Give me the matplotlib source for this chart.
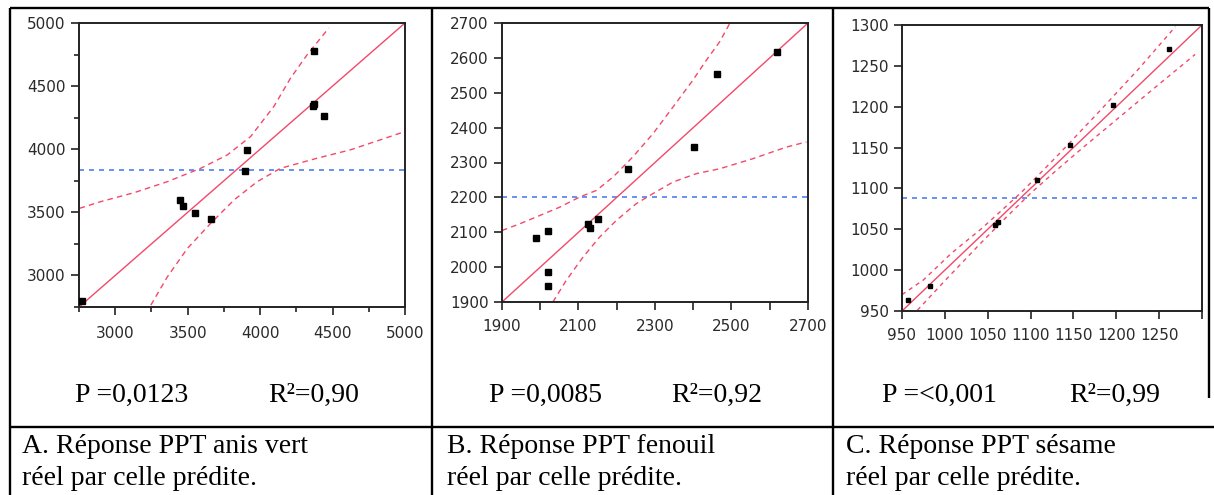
import matplotlib

matplotlib.use("Agg")

import matplotlib.pyplot as plt
from matplotlib.ticker import MultipleLocator, FixedLocator

# --- panel A: anis vert (actual vs predicted) ---
a_x = [2770, 3448, 3468, 3549, 3664, 3895, 3909, 4365, 4372, 4371, 4444]
a_y = [2796, 3598, 3553, 3492, 3447, 3830, 3995, 4345, 4362, 4780, 4267]
a_mean = 3835
a_fit = [2750, 5000]
a_up_x = [2754, 2901, 3131, 3360, 3590, 3774, 3935, 4095, 4210, 4325, 4474]
a_up_y = [3532, 3585, 3656, 3743, 3849, 3955, 4101, 4339, 4563, 4749, 4960]
a_lo_x = [3246, 3360, 3498, 3659, 3820, 3980, 4141, 4394, 4623, 5000]
a_lo_y = [2765, 2989, 3214, 3413, 3598, 3743, 3849, 3929, 3995, 4140]

# --- panel B: fenouil ---
b_x = [1989, 2021, 2021, 2021, 2125, 2129, 2151, 2230, 2403, 2462, 2619]
b_y = [2083, 2103, 1986, 1945, 2123, 2112, 2139, 2281, 2345, 2553, 2617]
b_mean = 2200
b_fit = [1900, 2700]
b_up_x = [1900, 1946, 1990, 2051, 2103, 2147, 2190, 2242, 2295, 2347, 2399, 2434, 2469, 2495]
b_up_y = [2105, 2124, 2144, 2172, 2201, 2220, 2258, 2316, 2383, 2459, 2536, 2593, 2646, 2698]
b_lo_x = [2033, 2068, 2112, 2155, 2199, 2251, 2295, 2347, 2408, 2469, 2556, 2643, 2696]
b_lo_y = [1900, 1962, 2029, 2086, 2134, 2182, 2211, 2244, 2268, 2282, 2311, 2344, 2359]

# --- panel C: sesame ---
c_x = [957, 983, 1058, 1062, 1108, 1146, 1196, 1262]
c_y = [964, 981, 1055, 1059, 1110, 1153, 1202, 1271]
c_mean = 1088
c_fit = [950, 1300]
c_up_x = [950, 975, 1008, 1043, 1064, 1090, 1107, 1134, 1180, 1225, 1269]
c_up_y = [970, 988, 1021, 1051, 1071, 1096, 1114, 1143, 1194, 1245, 1298]
c_lo_x = [968, 1000, 1040, 1070, 1100, 1130, 1160, 1200, 1240, 1292]
c_lo_y = [951, 987, 1031, 1063, 1094, 1122, 1149, 1184, 1219, 1264]

a_ticks = [3000, 3500, 4000, 4500, 5000]
b_xticks = [1900, 2100, 2300, 2500, 2700]
c_ticks = [950, 1000, 1050, 1100, 1150, 1200, 1250, 1300]

p_labels = ["P =0,0123", "P =0,0085", "P =<0,001"]
r2_labels = ["R²=0,90", "R²=0,92", "R²=0,99"]
captions = [
    "A. Réponse PPT anis vert\nréel par celle prédite.",
    "B. Réponse PPT fenouil\nréel par celle prédite.",
    "C. Réponse PPT sésame\nréel par celle prédite.",
]

W, H = 1214, 495
RED = "#f2496a"
BLUE = "#4d7ff0"
TICK_COLOR = "#2a2a2a"

fig = plt.figure(figsize=(W / 100, H / 100), dpi=100)

# overlay in pixel coordinates for the table frame and text
over = fig.add_axes([0, 0, 1, 1])
over.set_xlim(0, W)
over.set_ylim(H, 0)
over.axis("off")

frame = [
    ((10, 1209), (8, 8)),
    ((10, 10), (8, 495)),
    ((432, 432), (8, 495)),
    ((833, 833), (8, 495)),
    ((1209, 1209), (8, 398)),
    ((10, 1214), (427, 427)),
]
for xs, ys in frame:
    over.plot(xs, ys, color="black", lw=1.7, solid_capstyle="butt")

serif = "Liberation Serif"
p_x = [75, 489, 882]
r2_x = [268, 671, 1069]
cap_x = [22, 447, 846]
for i in range(3):
    over.text(p_x[i], 402, p_labels[i], fontsize=20, family=serif, va="baseline")
    over.text(r2_x[i], 402, r2_labels[i], fontsize=20, family=serif, va="baseline")
    lines = captions[i].split("\n")
    over.text(cap_x[i], 453, lines[0], fontsize=20, family=serif, va="baseline")
    over.text(cap_x[i], 485, lines[1], fontsize=20, family=serif, va="baseline")


def px_axes(left, right, top, bottom):
    return fig.add_axes([left / W, (H - bottom) / H, (right - left) / W, (bottom - top) / H])


def draw_panel(ax, x, y, mean, fit, up_x, up_y, lo_x, lo_y, msize, dash):
    lo, hi = fit
    ax.axhline(mean, color=BLUE, lw=1.2, ls=(0, (3, 3)), zorder=1)
    ax.plot(fit, fit, color=RED, lw=1.0, zorder=2)
    ax.plot(up_x, up_y, color=RED, lw=1.0, ls=(0, dash), zorder=2)
    ax.plot(lo_x, lo_y, color=RED, lw=1.0, ls=(0, dash), zorder=2)
    ax.plot(x, y, ls="none", marker="s", color="black", markersize=msize, zorder=3)
    ax.set_xlim(lo, hi)
    ax.set_ylim(lo, hi)
    for s in ax.spines.values():
        s.set_linewidth(1.4)
        s.set_color("#222222")
    ax.tick_params(which="both", direction="out", colors="#222222", labelcolor=TICK_COLOR,
                   labelsize=11, width=1.2)
    ax.tick_params(which="major", length=6)


# panel A
ax_a = px_axes(79, 405, 23, 307)
draw_panel(ax_a, a_x, a_y, a_mean, a_fit, a_up_x, a_up_y, a_lo_x, a_lo_y, 5, (4, 3))
ax_a.xaxis.set_major_locator(FixedLocator(a_ticks))
ax_a.yaxis.set_major_locator(FixedLocator(a_ticks))
ax_a.xaxis.set_minor_locator(MultipleLocator(250))
ax_a.yaxis.set_minor_locator(MultipleLocator(250))
ax_a.tick_params(which="minor", length=3.5)
ax_a.tick_params(axis="x", pad=8)

# panel B
ax_b = px_axes(502, 808, 23, 302)
draw_panel(ax_b, b_x, b_y, b_mean, b_fit, b_up_x, b_up_y, b_lo_x, b_lo_y, 4.3, (4, 3))
ax_b.xaxis.set_major_locator(FixedLocator(b_xticks))
ax_b.xaxis.set_minor_locator(MultipleLocator(100))
ax_b.yaxis.set_major_locator(MultipleLocator(100))
ax_b.tick_params(which="minor", length=6)
ax_b.tick_params(axis="x", pad=6)

# panel C
ax_c = px_axes(902, 1202, 25, 311)
draw_panel(ax_c, c_x, c_y, c_mean, c_fit, c_up_x, c_up_y, c_lo_x, c_lo_y, 2.4, (3, 3))
ax_c.set_xticks(c_ticks)
ax_c.set_xticklabels([str(t) for t in c_ticks[:-1]] + [""])
ax_c.yaxis.set_major_locator(MultipleLocator(50))
ax_c.tick_params(axis="x", pad=6)

fig.savefig("out.png", dpi=100)
